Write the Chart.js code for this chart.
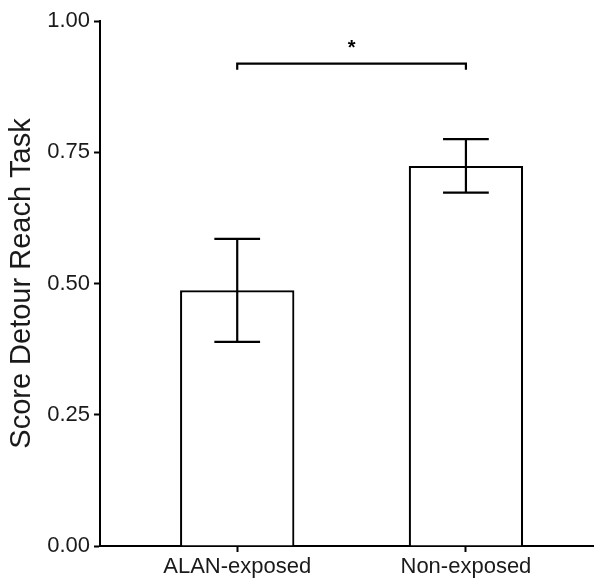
<!DOCTYPE html>
<html>
<head>
<meta charset="utf-8">
<script src="https://cdn.jsdelivr.net/npm/chart.js@4.4.1/dist/chart.umd.min.js"></script>
<style>
  html, body { margin: 0; padding: 0; background: #fff; }
  #wrap { width: 594px; height: 578px; }
</style>
</head>
<body>
<div id="wrap"><canvas id="scoreChart"></canvas></div>
<script>
// groups and their positions on the discrete axis (ggplot-style 1, 2)
const groups = ["ALAN-exposed", "Non-exposed"];
const groupPos = [1, 2];
const meanScore = [0.487, 0.724];
const errLow = [0.389, 0.673];
const errHigh = [0.585, 0.775];
const yTicks = [0, 0.25, 0.5, 0.75, 1];
// significance bracket: between groups, drop ends at sigEnd, bar at sigTop
const sigPair = [1, 2];
const sigEnd = 0.907;
const sigTop = 0.919;
const sigLabel = "*";

Chart.defaults.font.family = "'Liberation Sans', Arial, sans-serif";
Chart.defaults.color = "#1a1a1a";

const errorBars = {
  id: "errorBars",
  afterDatasetsDraw(chart) {
    const { ctx, scales: { x, y } } = chart;
    ctx.save();
    ctx.strokeStyle = "#000";
    ctx.lineWidth = 2.2;
    groupPos.forEach((g, i) => {
      const cx = x.getPixelForValue(g);
      const half = x.getPixelForValue(g + 0.1) - cx;
      const yl = y.getPixelForValue(errLow[i]);
      const yh = y.getPixelForValue(errHigh[i]);
      ctx.beginPath();
      ctx.moveTo(cx, yl); ctx.lineTo(cx, yh);
      ctx.moveTo(cx - half, yl); ctx.lineTo(cx + half, yl);
      ctx.moveTo(cx - half, yh); ctx.lineTo(cx + half, yh);
      ctx.stroke();
    });

    // significance bracket
    const x1 = x.getPixelForValue(sigPair[0]);
    const x2 = x.getPixelForValue(sigPair[1]);
    const yt = y.getPixelForValue(sigTop);
    const ye = y.getPixelForValue(sigEnd);
    ctx.beginPath();
    ctx.moveTo(x1, ye); ctx.lineTo(x1, yt); ctx.lineTo(x2, yt); ctx.lineTo(x2, ye);
    ctx.stroke();
    ctx.fillStyle = "#000";
    ctx.font = "bold 20px 'Liberation Sans', Arial, sans-serif";
    ctx.textAlign = "center";
    ctx.textBaseline = "alphabetic";
    ctx.fillText(sigLabel, (x1 + x2) / 2, yt - 10);
    ctx.restore();
  }
};

const ctx = document.getElementById("scoreChart").getContext("2d");
new Chart(ctx, {
  type: "bar",
  data: {
    datasets: [
      {
        data: groupPos.map((g, i) => ({ x: g, y: meanScore[i] })),
        backgroundColor: "#fff",
        borderColor: "#000",
        borderWidth: 2.2,
        categoryPercentage: 1,
        barPercentage: 0.5,
      },
    ],
  },
  options: {
    responsive: true,
    maintainAspectRatio: false,
    animation: false,
    layout: { padding: { top: 21, right: 0, left: 0, bottom: 0 } },
    scales: {
      x: {
        type: "linear",
        min: 0.4,
        max: 2.56,
        offset: false,
        afterBuildTicks: (scale) => {
          scale.ticks = groupPos.map((v) => ({ value: v }));
        },
        afterFit: (scale) => {
          scale.height = 32;
        },
        ticks: {
          font: { size: 22 },
          color: "#1a1a1a",
          padding: 2,
          maxRotation: 0,
          autoSkip: false,
          callback: (v) => groups[groupPos.indexOf(v)],
        },
        grid: {
          offset: false,
          drawOnChartArea: false,
          tickLength: 6,
          tickWidth: 2,
          tickColor: "#000",
        },
        border: { display: true, color: "#000", width: 2 },
      },
      y: {
        min: 0,
        max: 1,
        afterBuildTicks: (scale) => {
          scale.ticks = yTicks.map((v) => ({ value: v }));
        },
        afterFit: (scale) => {
          scale.width = 100;
        },
        ticks: {
          font: { size: 22 },
          color: "#1a1a1a",
          padding: 4,
          callback: (v) => v.toFixed(2),
        },
        grid: {
          drawOnChartArea: false,
          tickLength: 6,
          tickWidth: 2,
          tickColor: "#000",
        },
        border: { display: true, color: "#000", width: 2 },
        title: {
          display: true,
          text: "Score Detour Reach Task",
          font: { size: 29 },
          color: "#1a1a1a",
          padding: { top: 5, bottom: 0 },
        },
      },
    },
    plugins: {
      legend: { display: false },
      tooltip: { enabled: false },
    },
  },
  plugins: [errorBars],
});
</script>
</body>
</html>
